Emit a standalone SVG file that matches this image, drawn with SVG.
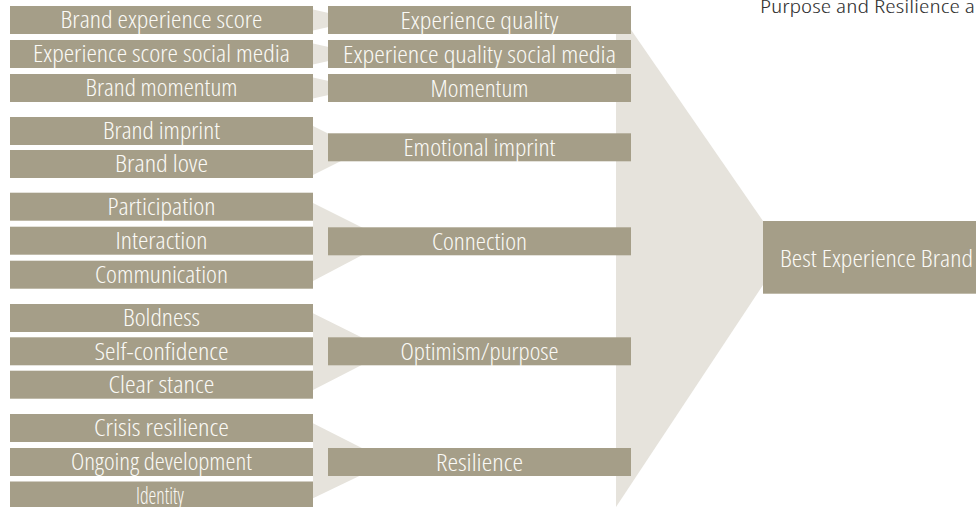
<svg xmlns="http://www.w3.org/2000/svg" width="976" height="507" viewBox="0 0 976 507">
<style>
.box{fill:#a59e88}
.lbl{fill:#fbfaf6;font-family:"Open Sans","Liberation Sans",sans-serif;font-stretch:75%;font-weight:300;font-size:23px;text-anchor:middle}
.big{font-size:24.5px;text-anchor:start}
.conn{fill:#e6e3dc}
.title{fill:#333333;font-family:"Open Sans","Liberation Sans",sans-serif;font-stretch:75%;font-weight:300;font-size:18px}
</style>
<rect width="976" height="507" fill="#ffffff"/>
<g id="connectors">
<polygon class="conn" points="616,8 763,221 763,285 616,507"/>
<polygon class="conn" points="313,9.5 313,30.5 360,20"/>
<polygon class="conn" points="313,43.5 313,64.5 360,54"/>
<polygon class="conn" points="313,77.5 313,98.5 360,88"/>
<polygon class="conn" points="313,126 313,175 362,150.5"/>
<polygon class="conn" points="313,203 313,281 389,241"/>
<polygon class="conn" points="313,313.3 313,390 389,351"/>
<polygon class="conn" points="313,423.3 313,498.3 389,461.7"/>
</g>
<text class="title" x="760" y="12.7" textLength="215" lengthAdjust="spacingAndGlyphs">Purpose and Resilience a</text>
<g id="n-brand-experience-score"><rect class="box" x="10" y="6" width="303" height="28"/><text class="lbl" x="161.5" y="28.3" textLength="202" lengthAdjust="spacingAndGlyphs">Brand experience score</text></g>
<g id="n-experience-score-social-media"><rect class="box" x="10" y="40" width="303" height="28"/><text class="lbl" x="161.5" y="62.3" textLength="257" lengthAdjust="spacingAndGlyphs">Experience score social media</text></g>
<g id="n-brand-momentum"><rect class="box" x="10" y="74" width="303" height="28"/><text class="lbl" x="161.5" y="96.3" textLength="152" lengthAdjust="spacingAndGlyphs">Brand momentum</text></g>
<g id="n-brand-imprint"><rect class="box" x="10" y="117" width="303" height="28"/><text class="lbl" x="161.5" y="139.3" textLength="117" lengthAdjust="spacingAndGlyphs">Brand imprint</text></g>
<g id="n-brand-love"><rect class="box" x="10" y="150" width="303" height="28"/><text class="lbl" x="161.5" y="172.3" textLength="93" lengthAdjust="spacingAndGlyphs">Brand love</text></g>
<g id="n-participation"><rect class="box" x="10" y="192.7" width="303" height="28"/><text class="lbl" x="161.5" y="215" textLength="108" lengthAdjust="spacingAndGlyphs">Participation</text></g>
<g id="n-interaction"><rect class="box" x="10" y="226.7" width="303" height="28"/><text class="lbl" x="161.5" y="249" textLength="92" lengthAdjust="spacingAndGlyphs">Interaction</text></g>
<g id="n-communication"><rect class="box" x="10" y="260.7" width="303" height="28"/><text class="lbl" x="161.5" y="283" textLength="133" lengthAdjust="spacingAndGlyphs">Communication</text></g>
<g id="n-boldness"><rect class="box" x="10" y="304" width="303" height="28"/><text class="lbl" x="161.5" y="326.3" textLength="77" lengthAdjust="spacingAndGlyphs">Boldness</text></g>
<g id="n-self-confidence"><rect class="box" x="10" y="337.3" width="303" height="28"/><text class="lbl" x="161.5" y="359.6" textLength="134" lengthAdjust="spacingAndGlyphs">Self-confidence</text></g>
<g id="n-clear-stance"><rect class="box" x="10" y="370.7" width="303" height="28"/><text class="lbl" x="161.5" y="393" textLength="106" lengthAdjust="spacingAndGlyphs">Clear stance</text></g>
<g id="n-crisis-resilience"><rect class="box" x="10" y="414" width="303" height="28"/><text class="lbl" x="161.5" y="436.3" textLength="135" lengthAdjust="spacingAndGlyphs">Crisis resilience</text></g>
<g id="n-ongoing-development"><rect class="box" x="10" y="448" width="303" height="28"/><text class="lbl" x="161.5" y="470.3" textLength="181" lengthAdjust="spacingAndGlyphs">Ongoing development</text></g>
<g id="n-identity"><rect class="box" x="10" y="481.5" width="303" height="28"/><text class="lbl" x="160" y="503.5" textLength="48" lengthAdjust="spacingAndGlyphs">Identity</text></g>
<g id="n-experience-quality"><rect class="box" x="328" y="6" width="303" height="28"/><text class="lbl" x="479.5" y="28.5" textLength="158" lengthAdjust="spacingAndGlyphs">Experience quality</text></g>
<g id="n-experience-quality-social-media"><rect class="box" x="328" y="40" width="303" height="28"/><text class="lbl" x="479.5" y="62.5" textLength="273" lengthAdjust="spacingAndGlyphs">Experience quality social media</text></g>
<g id="n-momentum"><rect class="box" x="328" y="74" width="303" height="28"/><text class="lbl" x="479.5" y="96.5" textLength="98" lengthAdjust="spacingAndGlyphs">Momentum</text></g>
<g id="n-emotional-imprint"><rect class="box" x="328" y="133.3" width="303" height="28"/><text class="lbl" x="479.5" y="155.6" textLength="152" lengthAdjust="spacingAndGlyphs">Emotional imprint</text></g>
<g id="n-connection"><rect class="box" x="328" y="227.3" width="303" height="28"/><text class="lbl" x="479.5" y="249.8" textLength="95" lengthAdjust="spacingAndGlyphs">Connection</text></g>
<g id="n-optimism-purpose"><rect class="box" x="328" y="337.3" width="303" height="28"/><text class="lbl" x="479.5" y="359.8" textLength="158" lengthAdjust="spacingAndGlyphs">Optimism/purpose</text></g>
<g id="n-resilience"><rect class="box" x="328" y="448" width="303" height="28"/><text class="lbl" x="479.5" y="470.5" textLength="87" lengthAdjust="spacingAndGlyphs">Resilience</text></g>
<g id="n-best-experience-brand"><rect class="box" x="763" y="221" width="230" height="72.7"/><text class="lbl big" x="780" y="266.7" textLength="193" lengthAdjust="spacingAndGlyphs">Best Experience Brand</text></g>
</svg>
